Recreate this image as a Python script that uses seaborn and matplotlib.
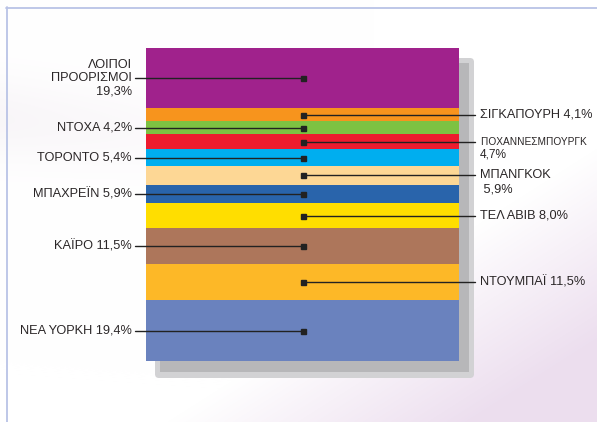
import numpy as np
import pandas as pd
import matplotlib
matplotlib.use("Agg")
import matplotlib.pyplot as plt
from matplotlib.patches import Rectangle, FancyBboxPatch
from matplotlib.lines import Line2D
import seaborn as sns

# ---- data (bottom to top) ----
cities = ["ΝΕΑ ΥΟΡΚΗ", "ΝΤΟΥΜΠΑΪ", "ΚΑΪΡΟ", "ΤΕΛ ΑΒΙΒ", "ΜΠΑΧΡΕΪΝ", "ΜΠΑΝΓΚΟΚ",
          "ΤΟΡΟΝΤΟ", "ΓΙΟΧΑΝΝΕΣΜΠΟΥΡΓΚ", "ΝΤΟΧΑ", "ΣΙΓΚΑΠΟΥΡΗ", "ΛΟΙΠΟΙ\nΠΡΟΟΡΙΣΜΟΙ"]
shares = [19.4, 11.5, 11.5, 8.0, 5.9, 5.9, 5.4, 4.7, 4.2, 4.1, 19.3]
colors = ["#6A82BE", "#FDB827", "#AD765B", "#FFDE00", "#2964AB", "#FDD795",
          "#00AEEF", "#ED1C2E", "#7DC242", "#F7941D", "#A0228C"]
sides = ["left", "right", "left", "right", "left", "right",
         "left", "right", "left", "right", "left"]
pct_newline = [False, False, False, False, False, True, False, True, False, False, True]

sns.set_theme(style="white")
plt.rcParams["font.family"] = ["Liberation Sans", "DejaVu Sans"]

W, H = 597, 422
fig = plt.figure(figsize=(W / 100, H / 100), dpi=100)

# ---- background ----
bg = fig.add_axes([0, 0, 1, 1])
bg.set_xlim(0, W)
bg.set_ylim(H, 0)
bg.axis("off")
yy, xx = np.mgrid[0:H, 0:W]
u = xx / W
v = yy / H
a1 = np.clip((u * 0.9 + v * 1.0 - 1.25) / 0.45, 0, 1) * 0.9
band = np.exp(-((v - 0.28 - 0.12 * u) / 0.10) ** 2) * np.clip(1 - u * 1.6, 0, 1) * 0.35
img = np.ones((H, W, 3))
lav = np.array([0.92, 0.86, 0.93])
pinkgray = np.array([0.93, 0.90, 0.93])
for c in range(3):
    img[..., c] = img[..., c] * (1 - a1) + lav[c] * a1
    img[..., c] = img[..., c] * (1 - band) + pinkgray[c] * band
bg.imshow(img, extent=[0, W, H, 0], aspect="auto", zorder=0)
bg.add_line(Line2D([6, W], [7.5, 7.5], color="#B9C3E6", lw=1.3, zorder=1))
bg.add_line(Line2D([6.5, 6.5], [7, H], color="#B9C3E6", lw=1.3, zorder=1))
# shadow
bg.add_patch(FancyBboxPatch((155, 58), 319, 320, boxstyle="round,pad=0,rounding_size=4",
                            fc="#D2D2D4", ec="none", zorder=2))
bg.add_patch(Rectangle((160, 63), 309, 309, fc="#B7B7B9", ec="none", zorder=3))

# ---- main stacked bar ----
ax = fig.add_axes([146 / W, (H - 361) / H, 313 / W, 313 / H])
ax.patch.set_alpha(0)
tops = np.cumsum(shares)
bottoms = tops - np.array(shares)
for i in range(len(shares) - 1, -1, -1):
    sns.barplot(x=["bar"], y=[tops[i]], color=colors[i], width=1, saturation=1,
                linewidth=0, ax=ax)
ax.set_xlim(-0.5, 0.5)
ax.set_ylim(0, tops[-1])
ax.axis("off")

px = lambda p: (p - 302.5) / 313.0
txtcol = "#2A2627"
FS = 9.2
for i, (name, val) in enumerate(zip(cities, shares)):
    yc = bottoms[i] + val / 2
    pct = f"{val:.1f}".replace(".", ",") + "%"
    if sides[i] == "left":
        ax.plot([px(135), 0], [yc, yc], color="#222222", lw=1, clip_on=False, zorder=5)
        label = f"{name}\n{pct}" if pct_newline[i] else f"{name} {pct}"
        ax.text(px(132), yc, label, ha="right", va="center", fontsize=FS,
                color=txtcol, clip_on=False, linespacing=1.15)
    else:
        ax.plot([0, px(475)], [yc, yc], color="#222222", lw=1, clip_on=False, zorder=5)
        if pct_newline[i]:
            small = len(name) > 12
            fs = 7.3 if small else FS
            ax.text(px(480), yc, name, ha="left", va="center", fontsize=fs,
                    color=txtcol, clip_on=False)
            ax.annotate(pct if small else " " + pct, xy=(px(480), yc),
                        xytext=(0, -13 if small else -14),
                        textcoords="offset pixels", ha="left", va="center",
                        fontsize=8.6 if small else FS, color=txtcol,
                        annotation_clip=False)
        else:
            ax.text(px(480), yc, f"{name} {pct}", ha="left", va="center", fontsize=FS,
                    color=txtcol, clip_on=False)
    ax.plot([0], [yc], marker="s", ms=3.6, color="#222222", clip_on=False, zorder=6)

fig.savefig("out.png", dpi=100)
